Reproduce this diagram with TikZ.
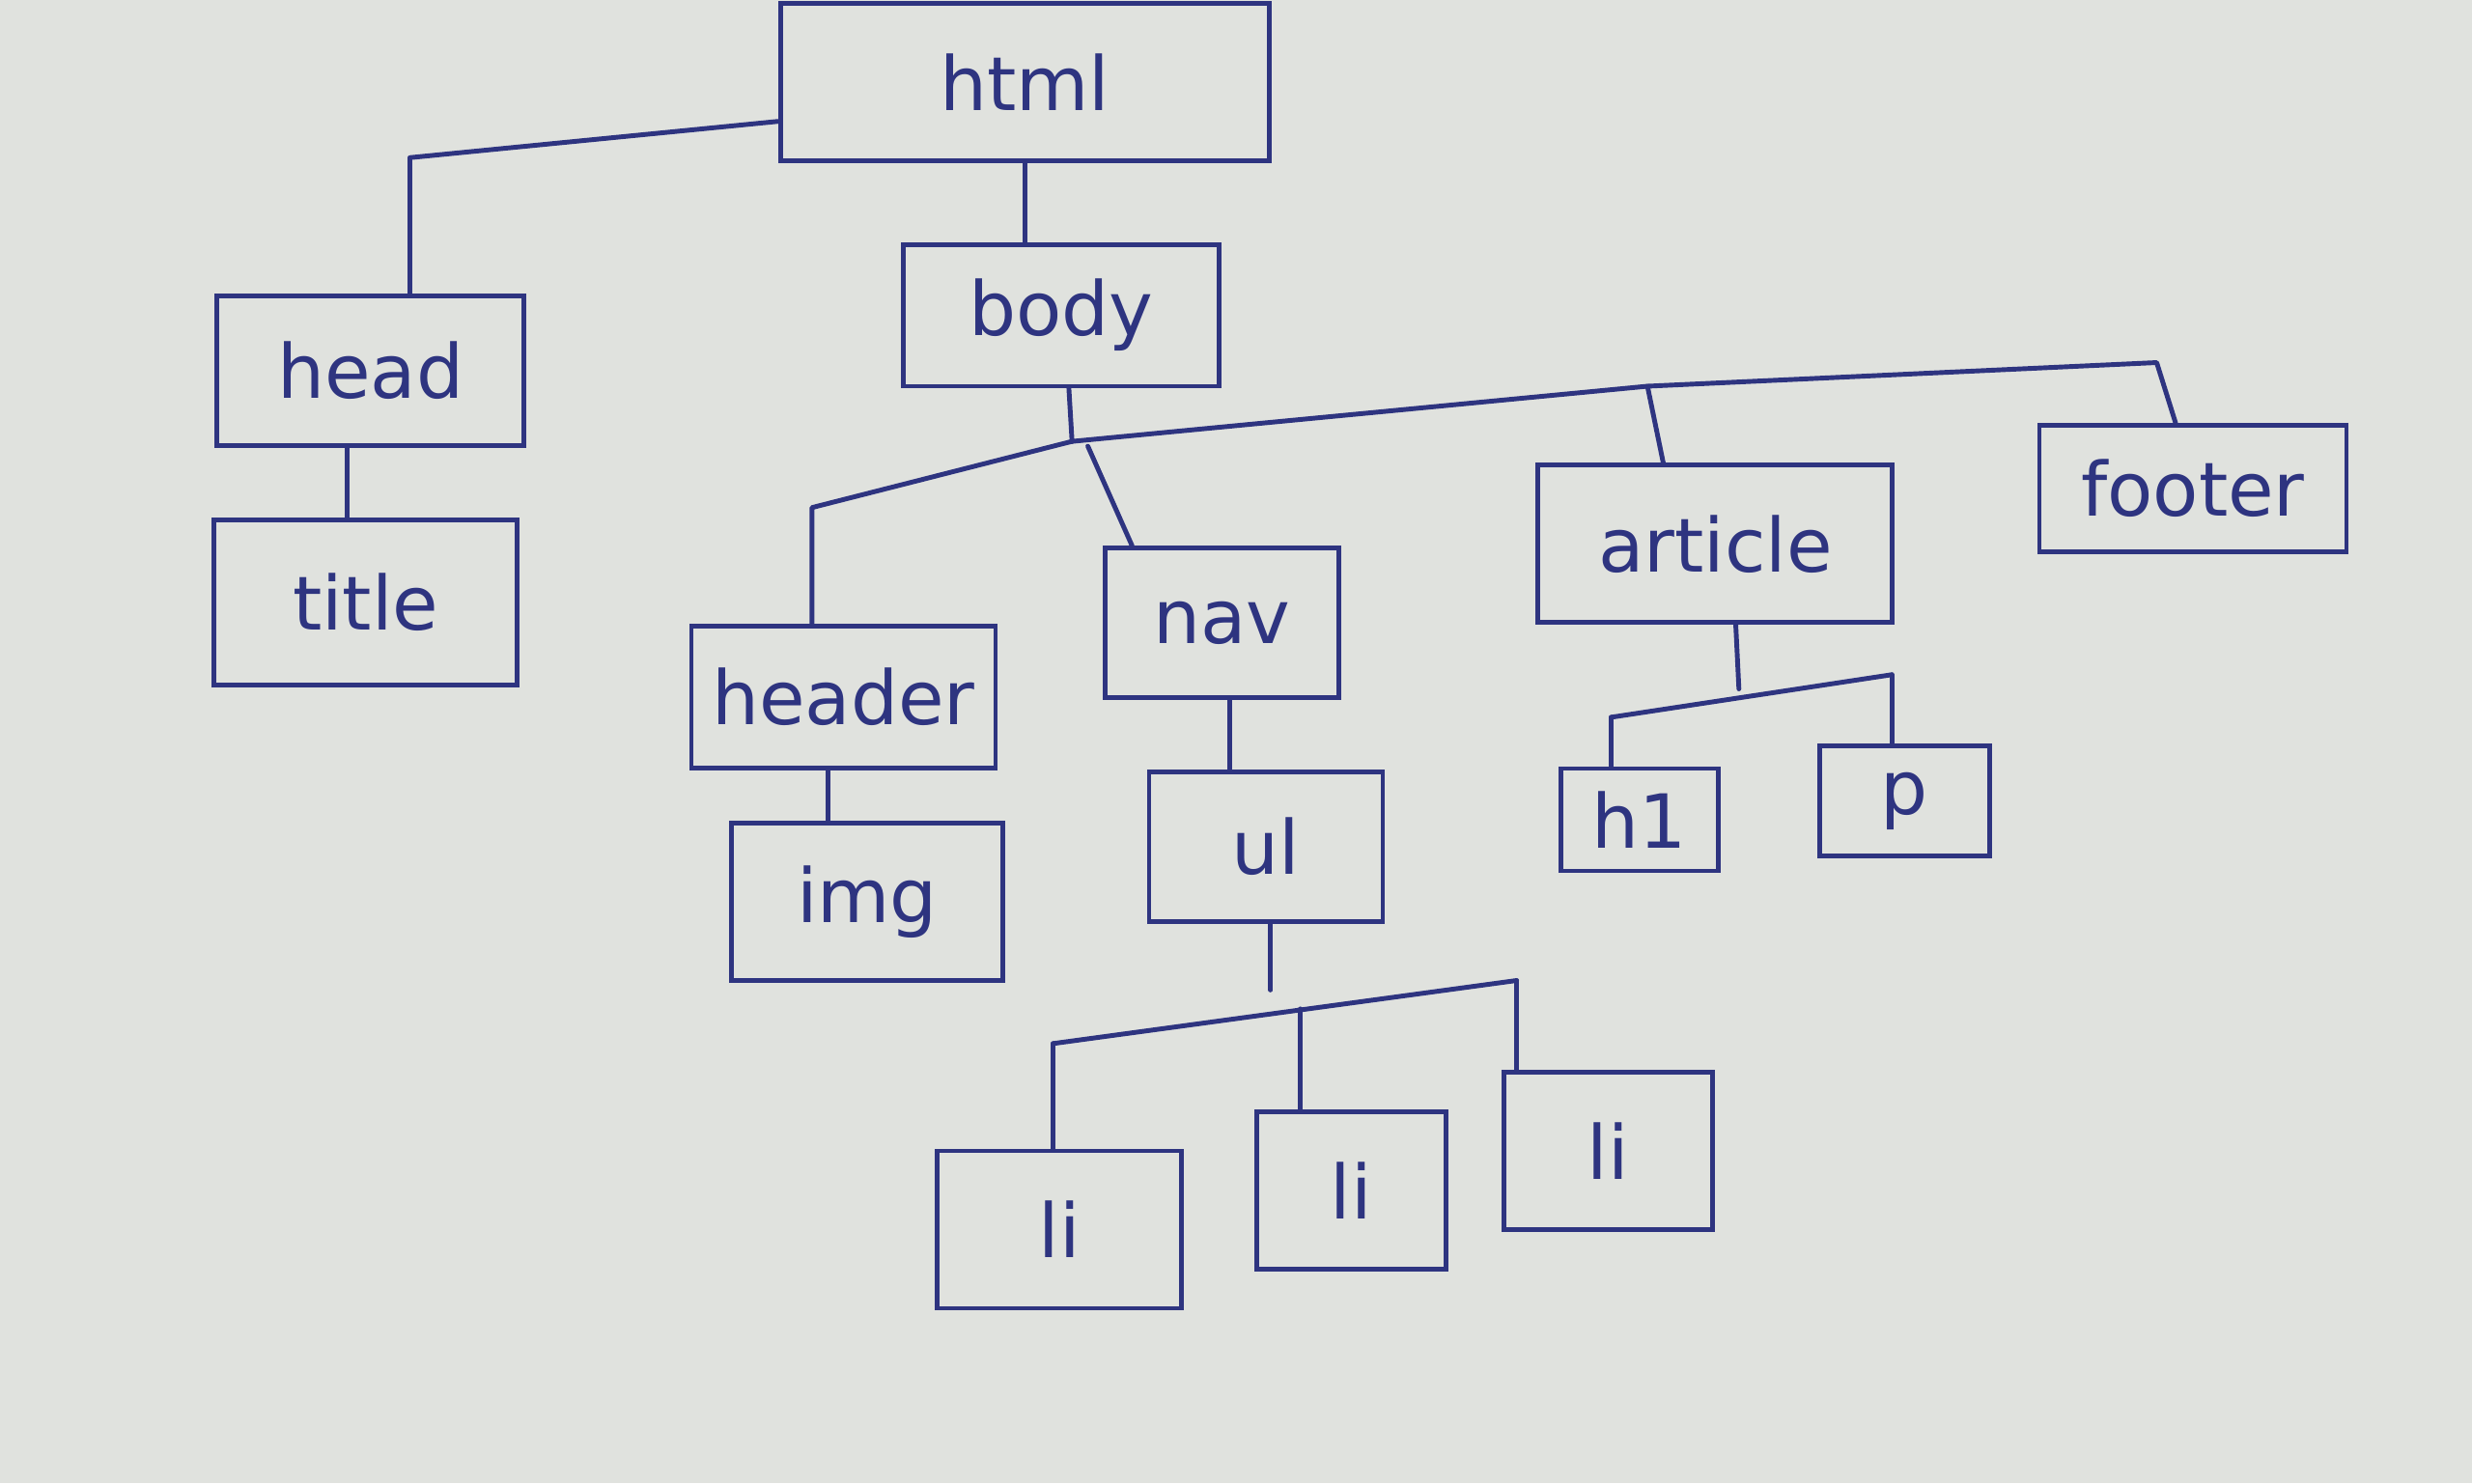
\documentclass[tikz,border=0pt]{standalone}
\usepackage{fontspec}
\setmainfont{DejaVu Sans}
\definecolor{paper}{RGB}{224,226,222}
\definecolor{pen}{RGB}{46,52,128}
\begin{document}
\begin{tikzpicture}[x={(0.01633cm,0)},y={(0,-0.01633cm)},
  box/.style={draw=pen,line width=1.4pt,rectangle,inner sep=0pt,text=pen,font=\fontsize{22}{26}\selectfont\addfontfeatures{FakeBold=0}},
  link/.style={draw=pen,line width=1.4pt,line cap=round,line join=round}]
\fill[paper] (0,0) rectangle (1568,941);
\useasboundingbox (0,0) rectangle (1568,941);
% nodes
\node[box,minimum width=5.06cm,minimum height=1.63cm] (html) at (650,52) {html};
\node[box,minimum width=3.27cm,minimum height=1.47cm] (body) at (673,200) {body};
\node[box,minimum width=3.18cm,minimum height=1.55cm] (head) at (235,235) {head};
\node[box,minimum width=3.14cm,minimum height=1.71cm] (title) at (232,382) {title};
\node[box,minimum width=3.15cm,minimum height=1.47cm] (header) at (535,442) {header};
\node[box,minimum width=2.81cm,minimum height=1.63cm] (img) at (550,572) {img};
\node[box,minimum width=2.42cm,minimum height=1.55cm] (nav) at (775,395) {nav};
\node[box,minimum width=2.42cm,minimum height=1.55cm] (ul) at (803,537) {ul};
\node[box,minimum width=3.67cm,minimum height=1.63cm] (article) at (1088,345) {article};
\node[box,minimum width=3.18cm,minimum height=1.31cm] (footer) at (1391,310) {footer};
\node[box,minimum width=1.63cm,minimum height=1.06cm] (h1) at (1040,520) {h1};
\node[box,minimum width=1.76cm,minimum height=1.14cm] (p) at (1208,508) {p};
\node[box,minimum width=2.53cm,minimum height=1.63cm] (li1) at (672,780) {li};
\node[box,minimum width=1.96cm,minimum height=1.63cm] (li2) at (857,755) {li};
\node[box,minimum width=2.16cm,minimum height=1.63cm] (li3) at (1020,730) {li};
% junction coordinates
\coordinate (hA) at (495,77);
\coordinate (hB) at (260,100);
\coordinate (bJ) at (680,280);
\coordinate (bHd) at (515,322);
\coordinate (bNv) at (690,283);
\coordinate (bAr) at (1045,245);
\coordinate (bFt) at (1368,230);
\coordinate (aJ) at (1103,437);
\coordinate (aL) at (1022,455);
\coordinate (aR) at (1200,428);
\coordinate (uJ) at (806,628);
\coordinate (uL) at (668,662);
\coordinate (uM) at (825,640);
\coordinate (uR) at (962,622);
% connectors
\draw[link] (html.west |- hA) -- (hB) -- (hB |- head.north);
\draw[link] (html.south -| 650,0) -- (650,0 |- body.north);
\draw[link] (head.south -| 220,0) -- (220,0 |- title.north);
\draw[link] (body.south -| 678,0) -- (bJ);
\draw[link] (bJ) -- (bHd) -- (bHd |- header.north);
\draw[link] (bNv) -- (718,0 |- nav.north);
\draw[link] (bJ) -- (bAr) -- (1055,0 |- article.north);
\draw[link] (bAr) -- (bFt) -- (1380,0 |- footer.north);
\draw[link] (header.south -| 525,0) -- (525,0 |- img.north);
\draw[link] (nav.south -| 780,0) -- (780,0 |- ul.north);
\draw[link] (article.south -| 1101,0) -- (aJ);
\draw[link] (aL) -- (aR);
\draw[link] (aL) -- (aL |- h1.north);
\draw[link] (aR) -- (aR |- p.north);
\draw[link] (ul.south -| 806,0) -- (uJ);
\draw[link] (uL) -- (uR);
\draw[link] (uL) -- (uL |- li1.north);
\draw[link] (uM) -- (uM |- li2.north);
\draw[link] (uR) -- (uR |- li3.north);
\end{tikzpicture}
\end{document}
